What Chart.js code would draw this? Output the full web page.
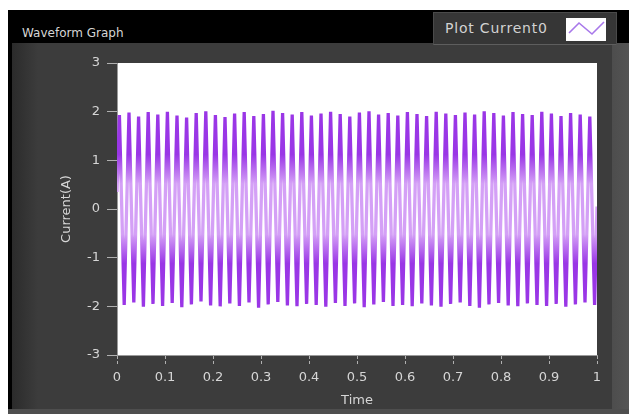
<!DOCTYPE html>
<html>
<head>
<meta charset="utf-8">
<script src="https://cdn.jsdelivr.net/npm/chart.js@4/dist/chart.umd.min.js"></script>
<style>
  html, body { margin: 0; padding: 0; width: 629px; height: 414px; overflow: hidden; background: #fff; }
  .abs { position: absolute; }
  #panel { left: 8px; top: 10px; width: 621px; height: 404px; background: #3c3c3c; }
  #leftEdge { left: 8px; top: 10px; width: 4px; height: 404px; background: #000; }
  #leftShade { left: 12px; top: 43px; width: 26px; height: 367px; background: linear-gradient(to right, #2b2b2b, #3c3c3c); }
  #rightShade { left: 612px; top: 43px; width: 17px; height: 371px; background: linear-gradient(to right, #4d4d4d, #545454); }
  #bottomEdge { left: 8px; top: 409px; width: 621px; height: 5px; background: #4e4e4e; }
  #header { left: 8px; top: 10px; width: 621px; height: 33px; background: #000; }
  #title { left: 22px; top: 26px; font: 12px "DejaVu Sans", sans-serif; color: #d6d6d6; white-space: nowrap; }
  #legend { left: 433px; top: 12px; width: 182px; height: 31px; background: #363636; border: 1px solid #4a4a4a; border-bottom-color: #5e5e5e; }
  #legendText { left: 445px; top: 20px; font: 14px "DejaVu Sans", sans-serif; color: #d2d2d2; white-space: nowrap; letter-spacing: 0.8px; }
  #legendIcon { left: 566px; top: 18px; width: 40px; height: 23px; background: #fff; }
  #chartWrap { left: 0; top: 0; width: 629px; height: 414px; }
</style>
</head>
<body>
<div id="panel" class="abs"></div>
<div id="leftEdge" class="abs"></div>
<div id="leftShade" class="abs"></div>
<div id="rightShade" class="abs"></div>
<div id="bottomEdge" class="abs"></div>
<div id="header" class="abs"></div>
<div id="title" class="abs">Waveform Graph</div>
<div id="legend" class="abs"></div>
<div id="legendText" class="abs">Plot Current0</div>
<div id="legendIcon" class="abs">
  <svg width="40" height="23" viewBox="0 0 40 23"><polyline points="3,15 13,5 26,16 38,4" fill="none" stroke="#a878ea" stroke-width="1.6"/></svg>
</div>
<div id="chartWrap" class="abs"><canvas id="c" width="629" height="414"></canvas></div>
<script>
// ---- data ----
const seriesName = "Plot Current0";
const xTitle = "Time";
const yTitle = "Current(A)";
const xTickValues = [0, 0.1, 0.2, 0.3, 0.4, 0.5, 0.6, 0.7, 0.8, 0.9, 1];
const yTickValues = [-3, -2, -1, 0, 1, 2, 3];

const timeSec = [0,
  0.005, 0.015, 0.025, 0.035, 0.045, 0.055, 0.065, 0.075, 0.085, 0.095,
  0.105, 0.115, 0.125, 0.135, 0.145, 0.155, 0.165, 0.175, 0.185, 0.195,
  0.205, 0.215, 0.225, 0.235, 0.245, 0.255, 0.265, 0.275, 0.285, 0.295,
  0.305, 0.315, 0.325, 0.335, 0.345, 0.355, 0.365, 0.375, 0.385, 0.395,
  0.405, 0.415, 0.425, 0.435, 0.445, 0.455, 0.465, 0.475, 0.485, 0.495,
  0.505, 0.515, 0.525, 0.535, 0.545, 0.555, 0.565, 0.575, 0.585, 0.595,
  0.605, 0.615, 0.625, 0.635, 0.645, 0.655, 0.665, 0.675, 0.685, 0.695,
  0.705, 0.715, 0.725, 0.735, 0.745, 0.755, 0.765, 0.775, 0.785, 0.795,
  0.805, 0.815, 0.825, 0.835, 0.845, 0.855, 0.865, 0.875, 0.885, 0.895,
  0.905, 0.915, 0.925, 0.935, 0.945, 0.955, 0.965, 0.975, 0.985, 0.995,
  1];

const currentA = [0.35,
  1.93, -1.97, 1.98, -1.92, 1.90, -2.01, 1.99, -1.95, 1.94, -1.99,
  2.00, -1.93, 1.92, -2.02, 1.88, -1.96, 1.97, -1.90, 2.01, -1.98,
  1.93, -2.00, 1.89, -1.94, 1.96, -1.99, 1.99, -1.92, 1.91, -2.03,
  1.95, -1.96, 2.02, -1.91, 1.97, -1.98, 1.94, -2.00, 1.99, -1.95,
  1.92, -1.97, 1.96, -2.01, 2.00, -1.93, 1.95, -1.99, 1.90, -1.94,
  1.98, -2.02, 2.01, -1.96, 1.94, -1.91, 1.97, -1.99, 1.92, -1.97,
  1.99, -2.00, 1.95, -1.94, 1.91, -1.98, 2.00, -2.01, 1.96, -1.95,
  1.93, -1.92, 1.98, -1.99, 1.94, -2.03, 2.01, -1.96, 1.97, -1.93,
  1.92, -1.98, 1.99, -2.00, 1.95, -1.94, 1.93, -1.97, 2.00, -1.99,
  1.96, -1.95, 1.91, -2.01, 1.97, -1.96, 1.94, -1.92, 1.90, -1.97,
  0.05];

// ---- styles ----
const DARK = '#9a36e6';
const LIGHT = '#d4a0f6';
const TEXT = '#d6d6d6';

const points = timeSec.map((t, i) => ({ x: t, y: currentA[i] }));

const plotBg = {
  id: 'plotBg',
  beforeDraw(chart) {
    const { ctx, chartArea: a } = chart;
    ctx.save();
    ctx.fillStyle = '#ffffff';
    ctx.fillRect(a.left, a.top, a.right - a.left, a.bottom - a.top);
    ctx.restore();
  }
};

function strokeGradient(context) {
  const chart = context.chart;
  const { ctx, chartArea, scales } = chart;
  if (!chartArea || !scales.y) return DARK;
  const y = scales.y;
  const top = y.getPixelForValue(2), bot = y.getPixelForValue(-2);
  const g = ctx.createLinearGradient(0, top, 0, bot);
  g.addColorStop(0, DARK);
  g.addColorStop(0.22, DARK);
  g.addColorStop(0.37, LIGHT);
  g.addColorStop(0.63, LIGHT);
  g.addColorStop(0.78, DARK);
  g.addColorStop(1, DARK);
  return g;
}

const font13 = { family: '"DejaVu Sans", sans-serif', size: 13 };

new Chart(document.getElementById('c'), {
  type: 'line',
  data: {
    datasets: [{
      label: seriesName,
      data: points,
      borderColor: strokeGradient,
      borderWidth: 3.3,
      pointRadius: 0,
      tension: 0,
      fill: false
    }]
  },
  options: {
    responsive: false,
    animation: false,
    events: [],
    layout: { padding: { left: 0, right: 32, top: 63, bottom: 0 } },
    plugins: { legend: { display: false }, tooltip: { enabled: false }, title: { display: false } },
    scales: {
      x: {
        type: 'linear',
        min: 0, max: 1,
        afterFit(s) { s.height = 59; },
        afterBuildTicks(s) { s.ticks = xTickValues.map(v => ({ value: v })); },
        ticks: { color: TEXT, font: font13, padding: 6, maxRotation: 0, autoSkip: false,
                 callback: v => String(Math.round(v * 10) / 10) },
        grid: { drawOnChartArea: false, drawTicks: true, tickLength: 9, tickColor: '#b0b0b0', tickBorderDash: [3, 2] },
        border: { display: true, color: '#9a9a9a' },
        title: { display: true, text: xTitle, color: TEXT, font: font13, padding: { top: 0, bottom: 6 } }
      },
      y: {
        type: 'linear',
        min: -3, max: 3,
        afterFit(s) { s.width = 117; },
        afterBuildTicks(s) { s.ticks = yTickValues.map(v => ({ value: v })); },
        ticks: { color: TEXT, font: font13, padding: 7, autoSkip: false },
        grid: { drawOnChartArea: false, drawTicks: true, tickLength: 10, tickColor: '#b0b0b0' },
        border: { display: true, color: '#9a9a9a' },
        title: { display: true, text: yTitle, color: TEXT, font: font13, padding: { top: 59, bottom: 0 } }
      }
    }
  },
  plugins: [plotBg]
});
</script>
</body>
</html>
